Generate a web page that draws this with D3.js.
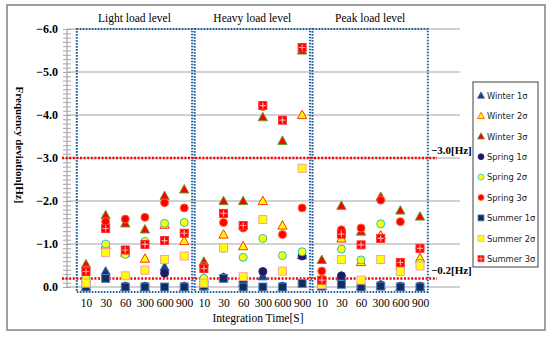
<!doctype html>
<html>
<head>
<meta charset="utf-8">
<style>
  body { margin: 0; background: #fff; }
  svg text { font-family: "Liberation Serif", "Times New Roman", serif; }
  .legend text { font-family: "DejaVu Sans", "Noto Sans", sans-serif; }
</style>
<script src="https://d3js.org/d3.v7.min.js"></script>
</head>
<body>
<svg width="550" height="337"></svg>
<script>
// load levels (panels) and integration times (x categories)
var levels = ["Light load level", "Heavy load level", "Peak load level"];
var times = ["10", "30", "60", "300", "600", "900"];
var yTicks = [0, -1, -2, -3, -4, -5, -6];
var limits = [-3.0, -0.2];

// frequency deviation [Hz], 18 values each: light(6), heavy(6), peak(6)
var winter1 = [0, -0.36, 0, 0, -0.46, 0,   -0.02, -0.22, -0.10, -0.25, 0, -0.74,   -0.02, -0.24, -0.02, -0.04, 0, 0];
var winter2 = [-0.20, -0.98, -0.80, -0.66, -1.45, -1.07,   -0.20, -1.22, -0.95, -2.00, -1.43, -4.00,   -0.20, -1.13, -0.58, -1.20, -0.50, -0.67];
var winter3 = [-0.53, -1.67, -1.48, -1.34, -2.12, -2.27,   -0.59, -2.00, -2.00, -3.95, -3.40, -5.50,   -0.63, -1.89, -1.29, -2.10, -1.78, -1.64];
var spring1 = [-0.02, -0.25, -0.02, -0.02, -0.32, -0.02,   -0.02, -0.22, -0.12, -0.36, -0.02, -0.72,   -0.05, -0.26, -0.02, -0.05, -0.02, -0.02];
var spring2 = [-0.20, -1.00, -0.76, -1.06, -1.48, -1.50,   -0.20, -0.90, -0.69, -1.13, -0.73, -0.82,   -0.10, -0.88, -0.63, -1.47, -0.45, -0.55];
var spring3 = [-0.40, -1.52, -1.58, -1.62, -1.96, -1.84,   -0.48, -1.50, -1.37, -4.20, -1.22, -1.84,   -0.37, -1.33, -1.37, -2.02, -1.52, -0.90];
var summer1 = [0, -0.20, 0, 0, 0, 0,   -0.02, -0.20, 0, 0, 0, -0.08,   -0.02, -0.06, 0, -0.02, 0, 0];
var summer2 = [-0.09, -0.80, -0.26, -0.39, -0.64, -0.72,   -0.09, -0.91, -0.24, -1.57, -0.37, -2.76,   -0.06, -0.64, -0.16, -0.64, -0.36, -0.49];
var summer3 = [-0.36, -1.36, -0.86, -0.99, -1.08, -1.25,   -0.43, -1.71, -1.43, -4.22, -3.88, -5.57,   -0.16, -1.23, -0.98, -1.13, -0.57, -0.90];

var series = [
  { name: "Winter 1\u03c3", values: winter1, shape: "tri", fill: "#1f3f7f", stroke: "#2e5aa8" },
  { name: "Winter 2\u03c3", values: winter2, shape: "tri", fill: "#ffff00", stroke: "#ff3300" },
  { name: "Winter 3\u03c3", values: winter3, shape: "tri", fill: "#ff0000", stroke: "#5aa02c" },
  { name: "Spring 1\u03c3", values: spring1, shape: "circle", fill: "#1a1a60", stroke: "#2a2a80" },
  { name: "Spring 2\u03c3", values: spring2, shape: "circle", fill: "#ffff00", stroke: "#22c0c8" },
  { name: "Spring 3\u03c3", values: spring3, shape: "circle", fill: "#ff0000", stroke: "#ff6633" },
  { name: "Summer 1\u03c3", values: summer1, shape: "square", fill: "#102f5e", stroke: "#5b86c0" },
  { name: "Summer 2\u03c3", values: summer2, shape: "square", fill: "#ffff00", stroke: "#f4a0b0" },
  { name: "Summer 3\u03c3", values: summer3, shape: "cross", fill: "#ff0000", stroke: "#ff3333" }
];

var svg = d3.select("svg");

// outer frame
svg.append("rect")
   .attr("x", 7).attr("y", 5).attr("width", 538).attr("height", 325)
   .attr("fill", "none").attr("stroke", "#808080").attr("stroke-width", 1.5);

var keys = [];
levels.forEach(function(l) { times.forEach(function(t) { keys.push(l + "|" + t); }); });

var x = d3.scalePoint().domain(keys).range([86, 420]);
var y = d3.scaleLinear().domain([0, -6]).range([287, 29]);
var step = x.step();
var axisLeft = 67, axisRight = 460;

// gridlines
svg.append("g")
   .selectAll("line")
   .data(yTicks)
   .enter().append("line")
   .attr("x1", axisLeft).attr("x2", axisRight)
   .attr("y1", function(d) { return y(d); })
   .attr("y2", function(d) { return y(d); })
   .attr("stroke", "#a6a6a6").attr("stroke-width", 1.2);

// y axis line + minor crossing ticks
svg.append("line")
   .attr("x1", axisLeft).attr("x2", axisLeft)
   .attr("y1", y(0)).attr("y2", y(-6))
   .attr("stroke", "#a6a6a6").attr("stroke-width", 1.2);

var minor = svg.append("g")
   .attr("transform", "translate(" + (axisLeft + 4) + ",0)")
   .call(d3.axisLeft(y).tickValues(d3.range(0, -6.05, -0.1)).tickSize(8).tickFormat(""));
minor.select(".domain").remove();
minor.selectAll("line").attr("stroke", "#a6a6a6");

var yAxis = svg.append("g")
   .attr("transform", "translate(" + axisLeft + ",0)")
   .call(d3.axisLeft(y).tickValues(yTicks).tickSize(0).tickPadding(9).tickFormat(d3.format(".1f")));
yAxis.select(".domain").remove();
yAxis.selectAll("text")
   .attr("font-weight", "bold")
   .attr("font-size", 12)
   .attr("fill", "#000");

// x axis labels
var xAxis = svg.append("g")
   .attr("transform", "translate(0," + 296 + ")")
   .call(d3.axisBottom(x).tickSize(0).tickFormat(function(d) { return d.split("|")[1]; }));
xAxis.select(".domain").remove();
xAxis.selectAll("text")
   .attr("font-size", 11.5)
   .attr("fill", "#000");

// panels
levels.forEach(function(l) {
    var x0 = x(l + "|" + times[0]) - step * 0.47;
    var x1 = x(l + "|" + times[times.length - 1]) + step * 0.4;
    svg.append("rect")
       .attr("x", x0).attr("y", y(-6))
       .attr("width", x1 - x0).attr("height", 292 - y(-6))
       .attr("fill", "none")
       .attr("stroke", "#1f5f9f").attr("stroke-width", 2)
       .attr("stroke-dasharray", "1.6,1.4");
    svg.append("text")
       .attr("x", (x0 + x1) / 2).attr("y", 22)
       .attr("text-anchor", "middle")
       .attr("font-size", 11.5)
       .text(l);
});

// limit lines
svg.selectAll(".limit")
   .data(limits)
   .enter().append("line")
   .attr("class", "limit")
   .attr("x1", 62).attr("x2", 437)
   .attr("y1", function(d) { return y(d); })
   .attr("y2", function(d) { return y(d); })
   .attr("stroke", "#ff0000").attr("stroke-width", 2.5)
   .attr("stroke-dasharray", "2,1.6");

svg.selectAll(".limitLabel")
   .data(limits)
   .enter().append("text")
   .attr("x", 431)
   .attr("y", function(d) { return y(d) - 4; })
   .attr("font-weight", "bold")
   .attr("font-size", 11)
   .text(function(d) { return d3.format(".1f")(d) + "[Hz]"; });

// axis titles
svg.append("text")
   .attr("transform", "translate(16,145) rotate(90)")
   .attr("text-anchor", "middle")
   .attr("font-weight", "bold")
   .attr("font-size", 11)
   .text("Frequency deviation[Hz]");

svg.append("text")
   .attr("x", 258).attr("y", 322)
   .attr("text-anchor", "middle")
   .attr("font-size", 11.5)
   .text("Integration Time[S]");

// marker drawing
function marker(g, s) {
    if (s.shape === "tri") {
        g.append("path").attr("d", "M0,-4.8L4.6,3.6L-4.6,3.6Z")
         .attr("fill", s.fill).attr("stroke", s.stroke).attr("stroke-width", 1);
    } else if (s.shape === "circle") {
        g.append("circle").attr("r", 4)
         .attr("fill", s.fill).attr("stroke", s.stroke).attr("stroke-width", 1);
    } else {
        g.append("rect").attr("x", -4).attr("y", -4).attr("width", 8).attr("height", 8)
         .attr("fill", s.fill).attr("stroke", s.stroke).attr("stroke-width", 1);
        if (s.shape === "cross") {
            g.append("path").attr("d", "M-3,0H3M0,-3V3")
             .attr("stroke", "#ffaaaa").attr("stroke-width", 1.2);
        }
    }
}

series.forEach(function(s) {
    svg.append("g")
       .selectAll("g")
       .data(s.values)
       .enter().append("g")
       .attr("transform", function(d, i) { return "translate(" + x(keys[i]) + "," + y(d) + ")"; })
       .each(function() { marker(d3.select(this), s); });
});

// legend
var legend = svg.append("g").attr("class", "legend");
legend.append("rect")
   .attr("x", 473).attr("y", 82).attr("width", 65).attr("height", 185)
   .attr("fill", "#fff").attr("stroke", "#404040").attr("stroke-width", 1);

var items = legend.selectAll(".item")
   .data(series)
   .enter().append("g")
   .attr("class", "item")
   .attr("transform", function(d, i) { return "translate(481," + (95.5 + i * 20.4) + ")"; });
items.each(function(s) {
    var g = d3.select(this).append("g").attr("transform", "scale(0.75)");
    marker(g, s);
});
items.append("text")
   .attr("x", 6).attr("y", 3.2)
   .attr("font-size", 8.3)
   .attr("fill", "#222")
   .text(function(d) { return d.name; });
</script>
</body>
</html>
